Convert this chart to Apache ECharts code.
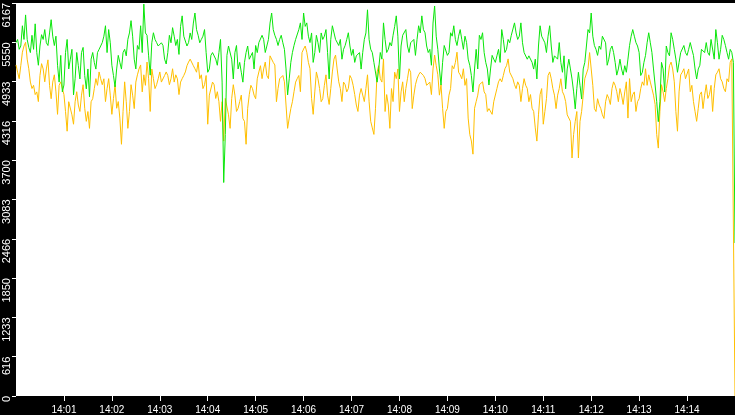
<!DOCTYPE html>
<html>
<head>
<meta charset="utf-8">
<script src="https://cdn.jsdelivr.net/npm/echarts@6/dist/echarts.min.js"></script>
<style>html,body{margin:0;padding:0;background:#000;}#c{width:735px;height:415px;}</style>
</head>
<body>
<div id="c"></div>
<script>
// samples every 4 s from 14:00:00, plus the in-between samples (2 s later)
const startMinute = 0;
const stepSeconds = 4;
const xTickSeconds = [60,120,180,240,300,360,420,480,540,600,660,720,780,840];
const yTicks = [0,616.7,1233.4,1850.1,2466.8,3083.5,3700.2,4316.9,4933.6,5550.3,6167];

const greenValues = [
5546,5440,5810,5980,5470,5660,5840,5190,5670,5750,5500,5905,5500,5190,5345,4880,5595,5285,4725,5390,
4975,5470,4820,4695,5390,5130,5440,5546,5810,5750,5190,4850,5345,5130,5440,5595,5890,5285,5500,5810,
6150,5660,5035,5700,5546,5515,5500,5210,5660,5780,5500,5360,5965,5660,5546,5595,6010,5660,5595,5750,
5080,5345,5390,5190,5595,3350,5345,5500,4975,5500,5235,4925,5390,5285,5390,5500,5546,5660,5390,5595,
6010,5660,5500,5660,5440,4725,5235,5500,5595,5855,6010,5855,5546,5235,5660,5390,5595,5750,4975,5810,
5595,5500,5285,5500,5700,5345,5235,5345,5130,5595,6060,5440,5235,4925,5390,5855,5390,5546,5660,5965,
4975,5660,5750,5390,5546,5345,5810,5965,5700,5390,5190,6120,5440,4880,5500,5345,5700,5810,5500,5750,
5440,5546,5190,4770,5440,5660,5700,5235,4880,5345,5235,5440,5750,5390,5595,5660,5855,5595,5855,5390,
5285,5345,5130,4975,5810,5660,5390,5810,5235,5345,5546,5080,4820,5285,4975,4505,5080,4660,5235,5750,
6010,5500,5345,5440,5660,5190,5440,5390,5035,5285,5035,5080,5500,5750,5546,5390,5080,5345,5700,5390,
4880,4305,5235,4770,5390,5700,5440,5080,5390,5500,5345,5546,5345,4975,5190,5440,5546,5345,5595,5750,
5285,5660,5500,5285,5390,2400
];
const greenMidValues = [
5595,5492,5595,5595,5389,5440,5389,5492,5595,5543,5697,5646,5646,4926,4772,5389,5132,5440,4978,5183,
5389,5029,5132,5286,5235,5389,5492,5646,5389,5543,5029,5132,5235,5389,5338,5697,5646,5132,5440,5389,
5697,5338,5543,5595,5492,5543,5286,5389,5543,5646,5595,5800,5646,5492,5697,5852,5749,5543,5646,5389,
5132,5389,5286,5389,4926,4104,5492,5286,5389,5132,5081,5235,5492,5338,5132,5389,5543,5595,5492,5852,
5749,5595,5595,5543,5132,4978,5389,5595,5749,5595,5800,5646,5697,5389,5543,5697,5646,5389,5595,5800,
5595,5595,5440,5595,5492,5440,5338,5389,5389,5697,5595,5389,5235,5132,5286,5595,5440,5492,5800,5646,
5492,5646,5492,5543,5595,5595,5697,5749,5492,5440,5852,5646,5132,5235,5492,5389,5646,5595,5646,5595,
5646,5286,5029,5132,5132,5595,5389,5132,5132,5286,5338,5235,5595,5440,5543,5646,5697,5646,5543,5389,
5338,5235,5286,5492,5646,5543,5646,5492,5338,5286,5235,5338,5132,5132,4772,4824,4875,5132,5492,5697,
5646,5440,5492,5646,5543,5286,5492,5235,5132,5132,5183,5286,5646,5646,5492,5029,5235,5543,5543,5132,
4618,4618,5132,5492,5338,5595,5286,5235,5389,5389,5440,5440,5132,5132,5440,5389,5389,5595,5286,5543,
5440,5595,5389,5440,5235
];

const orangeValues = [
5195,4980,5395,5550,5135,4825,4730,4620,5215,4930,5275,4665,5040,4420,4930,4730,4155,4620,4265,4775,
4465,4885,4310,4200,4665,4980,5085,4885,4620,4980,4420,4885,4620,3950,4930,4200,4885,4510,5040,5195,
5040,5240,4465,4980,4885,5085,4930,5085,4885,5135,5040,4730,4980,5085,5240,5290,5135,5240,5040,4885,
4265,4730,4885,4775,4310,4000,4665,4200,4885,4465,4620,4355,3950,4730,4825,4665,5085,4980,5240,4980,
5350,5195,4825,4980,4930,4200,4510,4775,4980,4775,5445,5395,5135,4420,5085,4825,4665,5040,4575,5085,
5350,4930,4620,4885,4825,4980,4730,4465,4825,4620,5040,4310,4105,5085,4980,5290,4730,4200,4620,4980,
4465,4930,4825,5135,4510,4885,5040,5085,4980,4885,4730,5350,5040,4885,4200,4510,4825,5135,5395,5040,
5135,4980,4105,3795,4620,4885,4930,4730,4510,4420,4620,4930,4930,5135,5290,5085,4885,4930,4620,4980,
4825,4730,4465,4000,4730,4265,4665,5085,4825,4510,4825,4775,4620,4420,3735,4310,3735,4465,4980,5135,
5395,4510,4665,4510,4355,4730,4575,4930,4775,4825,4575,4930,4980,4730,4465,4665,4930,5135,5040,4825,
4575,3890,4885,4620,4980,5240,4930,4155,5040,5135,4980,4775,4620,4310,4730,4510,4885,4730,4465,5040,
5135,4930,4775,4930,5290,0
];
const orangeMidValues = [
5081,5183,5492,5286,4926,4875,4772,5029,5132,5132,4875,4926,4772,4875,4824,4464,4618,4412,4618,4566,
4721,4515,4464,4618,4824,4875,4978,4978,4824,4721,4669,4515,4361,4464,4618,4464,4721,4926,5132,4772,
4875,4978,5132,4824,4978,4926,5029,5029,4978,4926,4978,4926,5029,5183,5286,5183,5081,4978,4824,5029,
4721,4926,4669,4618,4618,4669,4412,4669,4721,4515,4721,4310,4515,4875,4721,4978,5183,5132,5029,5338,
5235,4618,4978,5029,4566,4361,4618,4926,5029,5389,5492,5235,4669,4772,4978,4618,4875,4721,4824,5286,
5132,4824,4926,4772,5029,4875,4566,4721,4824,4824,4618,4207,4515,5183,4926,4464,4566,4824,5081,5132,
4772,4618,4978,5081,4721,4978,5081,5029,4875,4926,5132,5183,4721,4515,4464,4721,5183,5235,5081,4978,
4875,4361,4001,4515,4721,4875,4772,4464,4515,4618,4824,4978,5029,5183,5081,4978,4824,4875,4824,4875,
4618,4515,4207,4412,4824,4464,5029,4978,4721,4721,4978,4721,4412,4310,4104,4464,4310,4721,4978,5389,
4875,4464,4566,4412,4618,4669,4824,4875,4618,4721,4772,4361,4618,4772,4618,4824,4875,4875,4926,4721,
4104,4464,4772,4824,5183,5132,4464,4772,5081,4978,5132,4875,4464,4515,4772,4721,4669,4875,4824,5081,
4978,4824,4978,5235,5286
];

// merge the 4 s samples and the in-between samples into one time-ordered series
function merge(main, mid) {
  const out = [];
  for (let i = 0; i < main.length; i++) {
    out.push([i * stepSeconds, main[i]]);
    if (i < mid.length) out.push([i * stepSeconds + stepSeconds / 2, mid[i]]);
  }
  return out;
}

const chart = echarts.init(document.getElementById('c'), null, {renderer: 'canvas'});
chart.setOption({
  animation: false,
  backgroundColor: '#000',
  grid: {left: 16, right: 0, top: 0, bottom: 16, show: true, backgroundColor: '#fff', borderWidth: 0},
  xAxis: {
    type: 'value', min: 0, max: 900, interval: 60,
    axisLine: {show: false},
    splitLine: {show: false},
    axisTick: {show: true, length: 5, customValues: xTickSeconds, lineStyle: {color: '#fff', width: 1}},
    axisLabel: {
      customValues: xTickSeconds, color: '#fff', fontSize: 10, fontFamily: 'Liberation Sans', margin: 9,
      formatter: v => '14:' + String(startMinute + Math.round(v / 60)).padStart(2, '0')
    }
  },
  yAxis: {
    type: 'value', min: 0, max: 6167,
    axisLine: {show: false},
    splitLine: {show: false},
    axisTick: {show: true, length: 4, customValues: yTicks, lineStyle: {color: '#fff', width: 1}},
    axisLabel: {
      customValues: yTicks, color: '#fff', fontSize: 11, fontFamily: 'Liberation Sans',
      rotate: 90, align: 'right', verticalAlign: 'middle', margin: 9,
      formatter: v => String(Math.floor(v + 1e-6))
    }
  },
  series: [
    {type: 'line', data: merge(orangeValues, orangeMidValues), showSymbol: false, symbol: 'none',
     lineStyle: {color: '#ffbf00', width: 1}, itemStyle: {color: '#ffbf00'}},
    {type: 'line', data: merge(greenValues, greenMidValues), showSymbol: false, symbol: 'none',
     lineStyle: {color: '#0ae60a', width: 1}, itemStyle: {color: '#0ae60a'}}
  ]
});
</script>
</body>
</html>
